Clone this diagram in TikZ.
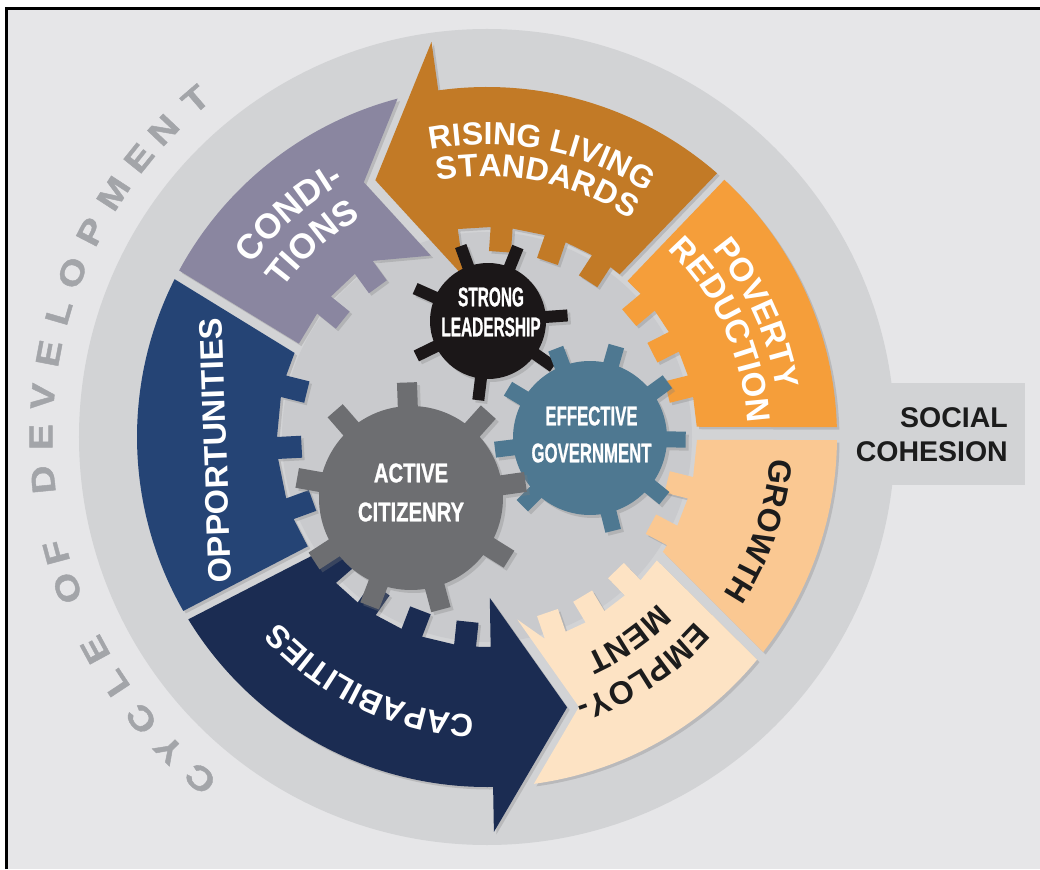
\documentclass[tikz,border=0pt]{standalone}
\usepackage{fontspec}
\setmainfont{Liberation Sans}
\newfontfamily\heavyfont[FakeBold=1.2]{Liberation Sans}
\usepackage{graphicx}
\usetikzlibrary{decorations.text,shadows}

\definecolor{bg}{HTML}{E6E6E8}
\definecolor{ringc}{HTML}{D2D3D5}
\definecolor{innerc}{HTML}{C9CACD}
\definecolor{risingc}{HTML}{C27A26}
\definecolor{povertyc}{HTML}{F59E3A}
\definecolor{growthc}{HTML}{FAC892}
\definecolor{employc}{HTML}{FDE3C4}
\definecolor{capabc}{HTML}{1B2C52}
\definecolor{opportc}{HTML}{254475}
\definecolor{condc}{HTML}{8A86A0}
\definecolor{leadc}{HTML}{1B1718}
\definecolor{govc}{HTML}{4E7891}
\definecolor{citc}{HTML}{6D6E71}
\definecolor{cyclec}{HTML}{A3A5A9}
\definecolor{darktext}{HTML}{1C1C1C}

\tikzset{
  seg/.style={drop shadow={shadow xshift=2.5pt, shadow yshift=-2.5pt, opacity=0.3}},
  gearshape/.style={drop shadow={shadow xshift=3pt, shadow yshift=-3pt, opacity=0.3}},
  cycleletter/.style={text=cyclec, font=\fontsize{33}{33}\selectfont\heavyfont\bfseries, inner sep=0pt},
  gearlabel/.style={text=white, font=\fontsize{27}{27}\selectfont\heavyfont\bfseries, align=center, inner sep=0pt},
  sidelabel/.style={anchor=base east, text=darktext, font=\fontsize{28.5}{28.5}\selectfont\bfseries, inner sep=0pt},
}

\newcommand\arclabel[5]{%
  \path[decorate, decoration={text along path, text align=center,
     text={|\fontsize{#3}{#3}\selectfont\bfseries\color{#4}|#5}}]
     ({#2+85}:#1) arc[start angle={#2+85}, end angle={#2-85}, radius=#1];}

\def\Rb{210}
\def\Rt{186}

\begin{document}
\begin{tikzpicture}[x=1pt,y=1pt]
\useasboundingbox (-487,-432) rectangle (553,437);
\fill[white] (-487,-432) rectangle (553,437);
\fill[bg] (-480.5,-432) rectangle (553,428.5);
\draw[line width=3pt, black] (-480.5,-432) -- (-480.5,428.5) -- (553,428.5);

% ring and social cohesion tab
\fill[ringc] (0,0) circle (408);
\fill[ringc] (380,-48) rectangle (538,54);
\fill[innerc] (0,0) circle (205);

% segments
\fill[condc, seg] (-89.4,338.4) arc[start angle=104.8, end angle=151.6, radius=350] -- (153.6:\Rb)
  \foreach \t in {141,126} { -- ({\t+3.0}:\Rb) -- ({\t+3.39}:\Rt) -- ({\t-3.39}:\Rt) -- ({\t-3.0}:\Rb) }
  -- (-56.2,181.4) -- (-123.2,254.7) -- cycle;

\fill[opportc, seg] (153.2:350) arc[start angle=153.2, end angle=209.8, radius=350] -- (211.4:\Rb)
  \foreach \t in {200,183,166} { -- ({\t+3.0}:\Rb) -- ({\t+3.39}:\Rt) -- ({\t-3.39}:\Rt) -- ({\t-3.0}:\Rb) }
  -- (156.4:\Rb) -- cycle;

\fill[employc, seg] (-82.3:350) arc[start angle=-82.3, end angle=-39.5, radius=350] -- (-36:\Rb)
  \foreach \t in {-46,-59,-71} { -- ({\t+3.0}:\Rb) -- ({\t+3.39}:\Rt) -- ({\t-3.39}:\Rt) -- ({\t-3.0}:\Rb) }
  -- (30.3,-182.5) -- (92,-269.9) -- cycle;

\fill[capabc, seg] (211.4:350) arc[start angle=211.4, end angle=271, radius=350] -- (271:395) -- (286.5:282) -- (271:161) -- (271:\Rb)
  \foreach \t in {264,249,235,221} { -- ({\t+3.0}:\Rb) -- ({\t+3.39}:\Rt) -- ({\t-3.39}:\Rt) -- ({\t-3.0}:\Rb) }
  -- (214.2:\Rb) -- cycle;

\fill[growthc, seg] (-37.9:350) arc[start angle=-37.9, end angle=-0.5, radius=350] -- (-0.8:\Rb)
  \foreach \t in {-14,-28} { -- ({\t+3.0}:\Rb) -- ({\t+3.39}:\Rt) -- ({\t-3.39}:\Rt) -- ({\t-3.0}:\Rb) }
  -- (-33.1:\Rb) -- cycle;

\fill[povertyc, seg] (1.6:350) arc[start angle=1.6, end angle=47.3, radius=350] -- (48:\Rb)
  \foreach \t in {40,27,14} { -- ({\t+3.0}:\Rb) -- ({\t+3.39}:\Rt) -- ({\t-3.39}:\Rt) -- ({\t-3.0}:\Rb) }
  -- (2.8:\Rb) -- cycle;

\fill[risingc, seg] (48.9:350) arc[start angle=48.9, end angle=98, radius=350] -- (98:399) -- (113.5:280) -- (98:161) -- (98:\Rb)
  \foreach \t in {86,71,57} { -- ({\t+3.0}:\Rb) -- ({\t+3.39}:\Rt) -- ({\t-3.39}:\Rt) -- ({\t-3.0}:\Rb) }
  -- (50.8:\Rb) -- cycle;

% gears
\begin{scope}[shift={(1,116)}]
\fill[leadc, gearshape] ({4-5.94}:58)
  \foreach \a/\n in {4/68,68/110,110/156,156/206,206/263,263/325,325/364}
  { -- ({\a-4.3}:80) -- ({\a+4.3}:80) -- ({\a+5.94}:58) arc[start angle={\a+5.94}, end angle={\n-5.94}, radius=58] } -- cycle;
\end{scope}
\begin{scope}[shift={(103,-1)}]
\fill[govc, gearshape] ({-76-5.96}:77)
  \foreach \a/\n in {-76/-39,-39/-1,-1/36,36/74,74/111,111/149,149/187,187/225,225/284}
  { -- ({\a-4.78}:96) -- ({\a+4.78}:96) -- ({\a+5.96}:77) arc[start angle={\a+5.96}, end angle={\n-5.96}, radius=77] } -- cycle;
\end{scope}
\begin{scope}[shift={(-76,-61)}]
\fill[citc, gearshape] ({8-6.24}:92)
  \foreach \a/\n in {8/48,48/92,92/131,131/170,170/213,213/249,249/285,285/328,328/368}
  { -- ({\a-4.95}:116) -- ({\a+4.95}:116) -- ({\a+6.24}:92) arc[start angle={\a+6.24}, end angle={\n-6.24}, radius=92] } -- cycle;
\end{scope}

% gear labels
\node[gearlabel] (lead) at (4,125) {\scalebox{0.57}[1]{STRONG}\\[3pt]\scalebox{0.57}[1]{LEADERSHIP}};
\node[gearlabel] (gov) at (104.5,2.5) {\scalebox{0.62}[1]{EFFECTIVE}\\[10pt]\scalebox{0.62}[1]{GOVERNMENT}};
\node[gearlabel] (cit) at (-76,-55.5) {\scalebox{0.75}[1]{ACTIVE}\\[12pt]\scalebox{0.75}[1]{CITIZENRY}};

% segment labels
\arclabel{292.5}{79}{32}{white}{RISING LIVING}
\arclabel{260.5}{78.75}{32}{white}{STANDARDS}
\arclabel{291.5}{131.5}{35}{white}{CONDI-}
\arclabel{252.5}{132}{35}{white}{TIONS}
\arclabel{293.5}{24.6}{33}{white}{POVERTY}
\arclabel{260.5}{24.5}{33}{white}{REDUCTION}
\arclabel{283.5}{-19}{32}{darktext}{GROWTH}
\arclabel{278.5}{-56.5}{32}{darktext}{EMPLOY-}
\arclabel{238.5}{-55}{32}{darktext}{MENT}
\arclabel{278}{244.5}{32}{white}{CAPABILITIES}
\node[rotate=92, text=white, font=\fontsize{32.5}{32.5}\selectfont\bfseries, inner sep=0pt] (opp) at (-271.5,-13.5) {OPPORTUNITIES};

% social cohesion
\node[sidelabel] (soc) at (521,9) {SOCIAL};
\node[sidelabel] (coh) at (521,-25) {COHESION};

% cycle of development
\foreach \ang/\ch [count=\i] in {230/C, 224.5/Y, 219.2/C, 213.5/L, 208.5/E, 199.8/O, 195/F, 185.5/D, 180/E, 174.8/V, 169.2/E, 163.8/L, 158.4/O, 152.6/P, 146.9/M, 141.3/E, 136.5/N, 130.8/T}
  \node[cycleletter, rotate=\ang-90] (cyc\i) at (\ang:446) {\scalebox{1.18}[1]{\ch}};
\end{tikzpicture}
\end{document}
